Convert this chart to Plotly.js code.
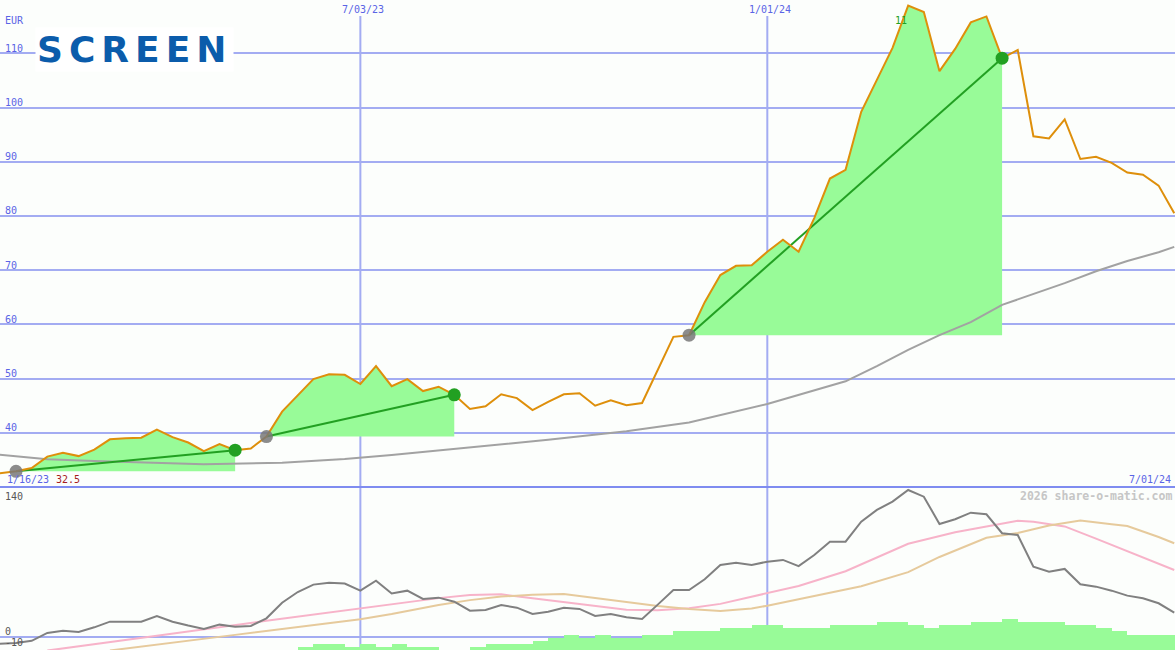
<!DOCTYPE html>
<html><head><meta charset="utf-8">
<script src="https://cdn.plot.ly/plotly-3.0.1.min.js"></script>
<style>html,body{margin:0;padding:0;background:#fcfefc}#chart{width:1175px;height:650px}</style>
</head><body><div id="chart"></div>
<script>
// ---- data ----
const firstWeek = '2023-01-16';
const price = [32.2, 32.5, 32.9, 33.5, 35.6, 36.3, 35.7, 36.9, 38.8, 39.0,
  39.1, 40.6, 39.2, 38.2, 36.6, 37.9, 36.8, 37.1, 39.3, 43.9,
  47.0, 49.9, 50.8, 50.7, 49.0, 52.3, 48.6, 49.9, 47.7, 48.5,
  47.0, 44.4, 44.9, 47.1, 46.4, 44.2, 45.7, 47.1, 47.3, 45.0,
  46.0, 45.1, 45.5, 51.6, 57.7, 58.0, 64.1, 69.1, 70.8, 70.9,
  73.4, 75.6, 73.4, 79.6, 86.9, 88.5, 99.2, 105.1, 111.0, 118.8,
  117.6, 106.7, 110.8, 115.7, 116.8, 109.1, 110.6, 94.7, 94.3, 97.8,
  90.5, 90.9, 89.8, 88.0, 87.6, 85.6, 80.5];
const oscillator = [-8, -7.3, -6.3, -4.0, 4.2, 6.6, 5.2, 10.1, 16.0, 16.0,
  16.0, 21.9, 16.0, 12.0, 8.4, 12.9, 10.8, 11.5, 19.5, 35.8,
  47.0, 54.7, 56.7, 55.9, 48.4, 58.8, 45.5, 48.4, 39.7, 41.1,
  36.9, 27.5, 28.2, 33.4, 30.6, 24.0, 26.4, 30.6, 29.3, 21.9,
  24.0, 20.6, 18.8, 33.8, 49.1, 49.1, 60.3, 75.2, 77.6, 75.2,
  78.7, 80.5, 74.0, 85.7, 99.6, 99.6, 120.5, 132.7, 141.4, 153.6,
  146.6, 118.1, 123.0, 129.9, 128.2, 108.4, 106.6, 73.5, 68.2, 71.1,
  55.1, 52.6, 48.4, 43.2, 40.4, 35.2, 25.4];
const volume = [0,0,0,0,0,0,0,0,0,0, 0,0,0,0,0,0,0,0,0,0,
  1, 2, 2, 1, 2, 1, 2, 1, 1, 0,
  0, 1, 2, 2, 2, 3.1, 3.9, 5, 3.9, 5,
  3.9, 3.9, 5, 5, 6.3, 6.3, 6.3, 7.3, 7.3, 8.3,
  8.3, 7.3, 7.3, 7.3, 8.3, 8.3, 8.3, 9.3, 9.3, 8.3,
  7.3, 8.3, 8.3, 9.3, 9.3, 10.3, 9.3, 9.3, 9.3, 8.3,
  8.3, 7.3, 6.3, 5, 5, 5, 5];
const maLongDates = ['2023-01-16','2023-01-23','2023-02-13','2023-03-06','2023-04-03','2023-04-24','2023-05-29','2023-06-26','2023-07-17','2023-08-21','2023-09-25','2023-10-30','2023-11-27','2024-01-01','2024-02-05','2024-02-19','2024-03-04','2024-03-18','2024-04-01','2024-04-15','2024-04-29','2024-05-13','2024-05-27','2024-06-10','2024-06-24','2024-07-01'];
const maLongValues = [36.2, 35.9, 35.1, 34.8, 34.5, 34.2, 34.45, 35.15, 35.9, 37.3, 38.7, 40.3, 41.9, 45.3, 49.5, 52.3, 55.3, 58.0, 60.4, 63.6, 65.6, 67.6, 69.8, 71.7, 73.3, 74.3];
const pinkDates = ['2023-02-13','2023-02-20','2023-04-03','2023-05-22','2023-07-03','2023-07-17','2023-08-07','2023-08-21','2023-09-04','2023-09-18','2023-10-02','2023-10-16','2023-10-30','2023-11-13','2023-11-27','2023-12-11','2023-12-25','2024-01-01','2024-01-15','2024-02-05','2024-02-19','2024-03-04','2024-03-25','2024-04-15','2024-04-22','2024-04-29','2024-05-13','2024-05-27','2024-06-10','2024-06-24','2024-07-01'];
const pinkValues = [-14.2, -11.9, 1.4, 16.9, 30.0, 34.8, 40.6, 43.8, 44.6, 40.4, 36.2, 32.1, 28.4, 28.0, 29.9, 34.6, 42.2, 46.5, 53.3, 68.7, 83.4, 97.4, 109.5, 119.0, 121.5, 120.4, 115.5, 102.7, 89.6, 76.0, 70.0];
const tanDates = ['2023-03-13','2023-03-20','2023-05-08','2023-07-03','2023-07-17','2023-08-07','2023-08-21','2023-09-04','2023-09-18','2023-10-02','2023-10-16','2023-10-30','2023-11-13','2023-11-27','2023-12-11','2023-12-25','2024-01-01','2024-01-15','2024-02-12','2024-03-04','2024-03-18','2024-04-08','2024-04-22','2024-05-06','2024-05-20','2024-06-03','2024-06-10','2024-06-17','2024-06-24','2024-07-01'];
const tanValues = [-14.1, -12.0, 2.2, 18.5, 24.0, 33.5, 38.5, 42.2, 44.2, 44.8, 40.3, 36.5, 32.4, 29.2, 27.2, 29.8, 32.7, 39.5, 53.0, 67.8, 83.6, 103.6, 108.6, 116.5, 121.6, 117.8, 116.0, 110.2, 104.5, 97.9];
const runStarts = ['2023-01-30', '2023-05-22', '2023-11-27'];
const runEnds = ['2023-05-08', '2023-08-14', '2024-04-15'];
const xTickDates = ['2023-07-03', '2024-01-01'];
const xTickLabels = ['7/03/23', '1/01/24'];
const yTickValues = [40, 50, 60, 70, 80, 90, 100, 110];
const osTickLabels = ['140', '0', '-10'];
const osTickValues = [140, 0, -10];

// ---- build ----
function weekDates(start, count) {
  const out = []; const t0 = Date.parse(start + 'T00:00:00Z');
  for (let i = 0; i < count; i++) out.push(new Date(t0 + i * 7 * 86400000).toISOString().slice(0, 10));
  return out;
}
const weeks = weekDates(firstWeek, price.length);
const idx = d => weeks.indexOf(d);

const ORANGE = '#de8f0b', FILL = '#98fb98', DKGREEN = '#22a022', GRID = '#a3acf2', BLUE = '#5a64e6';
const traces = [];
for (let r = 0; r < runStarts.length; r++) {
  const a = idx(runStarts[r]), b = idx(runEnds[r]);
  const base = price[a];
  traces.push({x: [weeks[a], weeks[b]], y: [base, base], mode: 'lines', line: {width: 0, color: 'rgba(0,0,0,0)'}, yaxis: 'y', hoverinfo: 'skip'});
  traces.push({x: weeks.slice(a, b + 1), y: price.slice(a, b + 1), mode: 'lines', fill: 'tonexty', fillcolor: FILL, line: {width: 0, color: 'rgba(0,0,0,0)'}, yaxis: 'y', hoverinfo: 'skip'});
}
traces.push({x: maLongDates, y: maLongValues, mode: 'lines', line: {color: '#a2a2a2', width: 2}, yaxis: 'y'});
for (let r = 0; r < runStarts.length; r++) {
  const a = idx(runStarts[r]), b = idx(runEnds[r]);
  traces.push({x: [weeks[a], weeks[b]], y: [price[a], price[b]], mode: 'lines', line: {color: DKGREEN, width: 2}, yaxis: 'y'});
}
traces.push({x: weeks, y: price, mode: 'lines', line: {color: ORANGE, width: 2}, yaxis: 'y'});
traces.push({x: runStarts, y: runStarts.map(d => price[idx(d)]), mode: 'markers', marker: {color: 'rgba(120,120,120,0.85)', size: 13}, yaxis: 'y'});
traces.push({x: runEnds, y: runEnds.map(d => price[idx(d)]), mode: 'markers', marker: {color: DKGREEN, size: 13}, yaxis: 'y'});
// lower panel
traces.push({x: pinkDates, y: pinkValues, mode: 'lines', line: {color: '#f7b3c9', width: 2}, yaxis: 'y2'});
traces.push({x: tanDates, y: tanValues, mode: 'lines', line: {color: '#e6ca9c', width: 2}, yaxis: 'y2'});
traces.push({x: weeks, y: oscillator, mode: 'lines', line: {color: '#808080', width: 2}, yaxis: 'y2'});
traces.push({x: weeks, y: volume, type: 'bar', width: 7 * 86400000, offset: 0, marker: {color: FILL, line: {width: 0}}, yaxis: 'y3'});

const sep = 163 / 650;
const pyp = ypx => 1 - ypx / 650;
const mono = (size, color, bold) => ({family: 'DejaVu Sans Mono', size: size, color: color, weight: bold ? 'bold' : 'normal'});
const annotations = [];
yTickValues.forEach(v => annotations.push({xref: 'paper', x: 0, xanchor: 'left', xshift: 3, yref: 'y', y: v, yanchor: 'middle', yshift: 5, text: String(v), showarrow: false, font: mono(10, BLUE)}));
annotations.push({xref: 'paper', x: 0, xanchor: 'left', xshift: 3, yref: 'paper', y: pyp(21), yanchor: 'middle', text: 'EUR', showarrow: false, font: mono(10, BLUE)});
xTickDates.forEach((d, i) => annotations.push({xref: 'x', x: d, xanchor: 'center', xshift: 3, yref: 'paper', y: pyp(9.5), yanchor: 'middle', text: xTickLabels[i], showarrow: false, font: mono(10, BLUE)}));
annotations.push({xref: 'paper', x: 0, xanchor: 'left', xshift: 5, yref: 'paper', y: pyp(479), yanchor: 'middle', text: '1/16/23', showarrow: false, font: mono(10, BLUE)});
annotations.push({xref: 'paper', x: 54 / 1175, xanchor: 'left', yref: 'paper', y: pyp(479), yanchor: 'middle', text: String(Math.min(...price.slice(1)).toFixed(1)), showarrow: false, font: mono(10, '#a61d1d')});
annotations.push({xref: 'paper', x: 1, xanchor: 'right', xshift: -2, yref: 'paper', y: pyp(479), yanchor: 'middle', text: '7/01/24', showarrow: false, font: mono(10, BLUE)});
annotations.push({xref: 'paper', x: 1, xanchor: 'right', xshift: -1, yref: 'paper', y: pyp(496), yanchor: 'middle', text: '2026 share-o-matic.com', showarrow: false, font: mono(11.5, '#c6c6c6', true)});
osTickValues.forEach((v, i) => annotations.push({xref: 'paper', x: 0, xanchor: 'left', xshift: 3, yref: 'y2', y: v, yanchor: 'middle', yshift: v === 0 ? 5 : (v === 140 ? 6 : 4), text: osTickLabels[i], showarrow: false, font: mono(10, '#585858')}));
annotations.push({xref: 'x', x: runEnds[2] ? weeks[idx('2024-03-04')] : null, xanchor: 'right', xshift: 1, yref: 'y', y: 116.0, yanchor: 'middle', text: '11', showarrow: false, font: mono(10, DKGREEN)});
annotations.push({xref: 'paper', x: 35 / 1175, xanchor: 'left', yref: 'paper', y: pyp(49.5), yanchor: 'middle', text: '<b><span style="letter-spacing:6px">SCREEN</span></b>', showarrow: false, bgcolor: '#ffffff', borderpad: 1, font: {family: 'DejaVu Sans', size: 36, color: '#0b5cab'}});

const shapes = xTickDates.map(d => ({type: 'line', layer: 'below', xref: 'x', x0: d, x1: d, yref: 'paper', y0: 0, y1: pyp(16), line: {color: GRID, width: 2}}));
shapes.push({type: 'line', layer: 'above', xref: 'paper', x0: 0, x1: 1, yref: 'paper', y0: sep, y1: sep, line: {color: '#7f8cf0', width: 2}});

const layout = {
  width: 1175, height: 650, margin: {l: 0, r: 0, t: 0, b: 0, pad: 0},
  paper_bgcolor: '#fcfefc', plot_bgcolor: '#fcfefc', showlegend: false, bargap: 0,
  xaxis: {type: 'date', range: ['2023-01-22 20:00', '2024-07-01 08:00'], showgrid: false, zeroline: false, showline: false, showticklabels: false, ticks: ''},
  yaxis: {domain: [sep, 1], range: [30, 119.83], tickvals: yTickValues, showgrid: true, gridcolor: GRID, gridwidth: 2, showticklabels: false, zeroline: false, showline: false, ticks: ''},
  yaxis2: {domain: [0, sep], range: [-13.6, 156.7], tickvals: [0], showgrid: false, zeroline: true, zerolinecolor: GRID, zerolinewidth: 2, showticklabels: false, showline: false, ticks: ''},
  yaxis3: {overlaying: 'y2', range: [0, 54.33], showgrid: false, zeroline: false, showticklabels: false, showline: false, ticks: ''},
  annotations: annotations, shapes: shapes
};
Plotly.newPlot('chart', traces, layout, {staticPlot: true, displayModeBar: false});
</script></body></html>
